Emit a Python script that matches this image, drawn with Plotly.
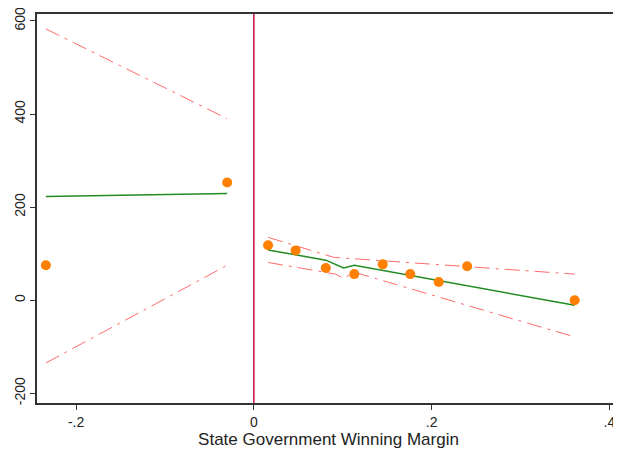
import plotly.graph_objects as go

pts_x = [-0.234, -0.030, 0.016, 0.047, 0.081, 0.113, 0.145, 0.176, 0.208, 0.240, 0.361]
pts_y = [75, 253, 118, 107, 69, 56, 77, 56, 39, 73, 0]

fitL_x = [-0.234, -0.030]
fitL_y = [223, 229]
ciLu_y = [583, 390]
ciLl_y = [-135, 75]

fitR_x = [0.016, 0.081, 0.101, 0.113, 0.361]
fitR_y = [108, 86, 69, 75, -11]
ciRu_x = [0.016, 0.090, 0.361]
ciRu_y = [135, 92, 56]
ciRl_x = [0.016, 0.092, 0.101, 0.113, 0.361]
ciRl_y = [81, 56, 47, 60, -79]

ci_style = dict(color="#ff6a6a", width=1, dash="longdashdot")
fit_style = dict(color="#228b22", width=1.5)

fig = go.Figure()
fig.add_trace(go.Scatter(x=fitL_x, y=ciLu_y, mode="lines", line=ci_style))
fig.add_trace(go.Scatter(x=fitL_x, y=ciLl_y, mode="lines", line=ci_style))
fig.add_trace(go.Scatter(x=ciRu_x, y=ciRu_y, mode="lines", line=ci_style))
fig.add_trace(go.Scatter(x=ciRl_x, y=ciRl_y, mode="lines", line=ci_style))
fig.add_trace(go.Scatter(x=fitL_x, y=fitL_y, mode="lines", line=fit_style))
fig.add_trace(go.Scatter(x=fitR_x, y=fitR_y, mode="lines", line=fit_style))
fig.add_trace(go.Scatter(x=pts_x, y=pts_y, mode="markers",
                         marker=dict(color="#ff8000", size=10)))
fig.add_vline(x=0, line=dict(color="#c8103c", width=1.5))

fig.update_layout(
    width=613, height=447, showlegend=False,
    plot_bgcolor="white", paper_bgcolor="white",
    margin=dict(l=29, r=1, t=6, b=52),
    font=dict(family="Liberation Sans, Arial", size=14, color="#222"),
    xaxis=dict(range=[-0.244, 0.412], tickvals=[-0.2, 0, 0.2, 0.4],
               ticktext=["-.2", "0", ".2", ".4"], showgrid=False, zeroline=False,
               showline=True, mirror=True, linecolor="#333", linewidth=1.5,
               ticks="outside", ticklen=5, tickcolor="#333", automargin=False,
               ticklabeloverflow="allow",
               title=dict(text="State Government Winning Margin", standoff=0)),
    yaxis=dict(range=[-221, 615], tickvals=[-200, 0, 200, 400, 600],
               ticktext=["-200", "0", "200", "400", "600"], tickangle=-90,
               showgrid=False, zeroline=False, showline=True, mirror=True,
               linecolor="#333", linewidth=1.5, ticks="outside", ticklen=5,
               tickcolor="#333", automargin=False, ticklabeloverflow="allow"),
)
fig.write_html("out.html")
